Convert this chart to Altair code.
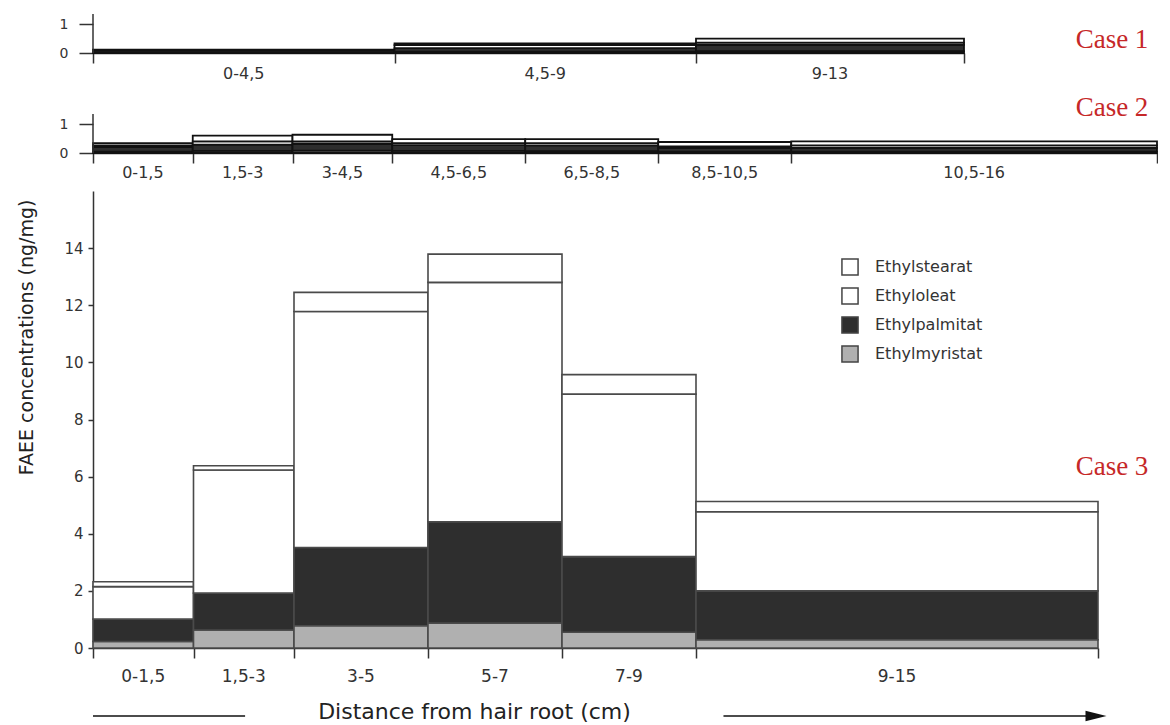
import altair as alt
import pandas as pd

FONT = "DejaVu Sans"

components = ["Ethylstearat", "Ethyloleat", "Ethylpalmitat", "Ethylmyristat"]
fill_colors = ["#ffffff", "#ffffff", "#2e2e2e", "#b0b0b0"]

# Case 1
c1_start = [0, 4.5, 9]
c1_end = [4.5, 9, 13]
c1_labels = ["0-4,5", "4,5-9", "9-13"]
c1_myristat = [0.02, 0.05, 0.06]
c1_palmitat = [0.07, 0.12, 0.22]
c1_oleat = [0.02, 0.10, 0.08]
c1_stearat = [0.01, 0.06, 0.14]

# Case 2
c2_start = [0, 1.5, 3, 4.5, 6.5, 8.5, 10.5]
c2_end = [1.5, 3, 4.5, 6.5, 8.5, 10.5, 16]
c2_labels = ["0-1,5", "1,5-3", "3-4,5", "4,5-6,5", "6,5-8,5", "8,5-10,5", "10,5-16"]
c2_myristat = [0.05, 0.07, 0.08, 0.07, 0.06, 0.05, 0.05]
c2_palmitat = [0.15, 0.22, 0.24, 0.20, 0.20, 0.12, 0.13]
c2_oleat = [0.06, 0.11, 0.08, 0.07, 0.08, 0.06, 0.08]
c2_stearat = [0.08, 0.20, 0.23, 0.14, 0.14, 0.15, 0.14]

# Case 3
c3_start = [0, 1.5, 3, 5, 7, 9]
c3_end = [1.5, 3, 5, 7, 9, 15]
c3_labels = ["0-1,5", "1,5-3", "3-5", "5-7", "7-9", "9-15"]
c3_myristat = [0.23, 0.63, 0.78, 0.87, 0.55, 0.29]
c3_palmitat = [0.78, 1.29, 2.74, 3.55, 2.65, 1.71]
c3_oleat = [1.14, 4.31, 8.26, 8.38, 5.69, 2.77]
c3_stearat = [0.17, 0.15, 0.67, 0.99, 0.68, 0.36]

# y-axis extent of the small case panels
case_axis_top = 1.35

# decorations of the x-axis title (in cm)
left_line = [0.0, 2.27]
right_arrow = [9.41, 14.86]
arrow_head = [14.97]

x_title = "Distance from hair root (cm)"
y_title = "FAEE concentrations (ng/mg)"


def make_long(start, end, myr, palm, ole, ste):
    rows = []
    series = [("Ethylmyristat", myr), ("Ethylpalmitat", palm),
              ("Ethyloleat", ole), ("Ethylstearat", ste)]
    for i in range(len(start)):
        for k, (name, vals) in enumerate(series):
            rows.append({"start": start[i], "end": end[i], "component": name,
                         "order": k, "value": vals[i]})
    return pd.DataFrame(rows)


def panel(start, end, labels, myr, palm, ole, ste, width, height, ymax, yticks,
          ytick_size, ylab_pad, ylab_size, case_text, case_x, case_y,
          label_offset, label_size, stroke, stroke_w, main=False):
    df = make_long(start, end, myr, palm, ole, ste)
    lab = pd.DataFrame({"start": start, "end": end, "label": labels})
    xscale = alt.Scale(domain=[0, end[-1]], nice=False, zero=False)
    yscale = alt.Scale(domain=[0, ymax], nice=False, zero=True)
    xaxis_kw = dict(values=[0] + list(end), labels=False, ticks=True, tickSize=10,
                    tickWidth=1.5, tickColor="#333", domainColor="#333",
                    domainWidth=1.5, grid=False)
    if main:
        xaxis = alt.Axis(title=x_title, titleFont=FONT, titleFontSize=22,
                         titleFontWeight="normal", titleColor="#222",
                         titleX=381, titleY=63, titleBaseline="middle",
                         titleAlign="center", **xaxis_kw)
    else:
        xaxis = alt.Axis(title=None, **xaxis_kw)
    yaxis_kw = dict(values=yticks, tickSize=ytick_size, tickWidth=1.5,
                    tickColor="#333", labelFont=FONT, labelFontSize=ylab_size,
                    labelColor="#333", labelPadding=ylab_pad, grid=False,
                    format="d")
    if main:
        yaxis = alt.Axis(title=y_title, titleFont=FONT, titleFontSize=19,
                         titleFontWeight="normal", titleColor="#222",
                         titleAnchor="end", titleY=8, titleAlign="right",
                         titlePadding=27, domainColor="#333",
                         domainWidth=1.5, **yaxis_kw)
        legend = alt.Legend(orient="none", legendX=748, legendY=67, title=None,
                            symbolType="square", symbolSize=260,
                            symbolStrokeColor="#444", symbolStrokeWidth=1.5,
                            labelFont=FONT, labelFontSize=16, labelColor="#333",
                            rowPadding=5, labelOffset=16)
    else:
        yaxis = alt.Axis(title=None, domain=False, **yaxis_kw)
        legend = None

    X = alt.X("start:Q", scale=xscale, axis=xaxis)
    Y = alt.Y("top:Q", scale=yscale, axis=yaxis)
    bars = alt.Chart(df).transform_window(
        top="sum(value)", groupby=["start"],
        sort=[alt.SortField("order", order="ascending")], frame=[None, 0]
    ).transform_calculate(bottom="datum.top - datum.value").mark_rect(
        stroke=stroke, strokeWidth=stroke_w
    ).encode(
        x=X,
        x2="end:Q",
        y=Y,
        y2="bottom:Q",
        fill=alt.Fill("component:N",
                      scale=alt.Scale(domain=components, range=fill_colors),
                      legend=legend),
    )
    xlabels = alt.Chart(lab).transform_calculate(
        mid="(datum.start + datum.end) / 2"
    ).mark_text(font=FONT, fontSize=label_size, color="#333", baseline="middle").encode(
        x=alt.X("mid:Q", scale=xscale, axis=xaxis),
        y=alt.value(height + label_offset),
        text="label:N",
    )
    case = alt.Chart(pd.DataFrame({"t": [case_text]})).mark_text(
        font="Liberation Serif", fontSize=27, color="#c62828", align="center",
        baseline="alphabetic"
    ).encode(text="t:N", x=alt.value(case_x), y=alt.value(case_y))
    layers = [bars, xlabels, case]
    if main:
        lines = pd.DataFrame({"x": [left_line[0], right_arrow[0]],
                              "x2": [left_line[1], right_arrow[1]]})
        rules = alt.Chart(lines).mark_rule(color="#111", strokeWidth=1.6).encode(
            x=alt.X("x:Q", scale=xscale, axis=xaxis), x2="x2:Q",
            y=alt.value(height + 68))
        head = alt.Chart(pd.DataFrame({"x": arrow_head})).mark_point(
            shape="M-1,-0.5L1,0L-1,0.5Z", filled=True, size=441, color="#111",
            opacity=1
        ).encode(x=alt.X("x:Q", scale=xscale, axis=xaxis), y=alt.value(height + 68))
        layers += [rules, head]
    else:
        yline = alt.Chart(pd.DataFrame({"y": [0.0], "y2": [case_axis_top]})).mark_rule(
            color="#333", strokeWidth=1.5
        ).encode(x=alt.value(0), y=alt.Y("y:Q", scale=yscale, axis=yaxis), y2="y2:Q")
        layers += [yline]
    return alt.layer(*layers).properties(width=width, height=height)


p1 = panel(c1_start, c1_end, c1_labels, c1_myristat, c1_palmitat, c1_oleat, c1_stearat,
           871, 39, 1.35, [0, 1], 14, 11, 14, "Case 1", 1019, 34, 21, 16, "#111", 1.8)
p2 = panel(c2_start, c2_end, c2_labels, c2_myristat, c2_palmitat, c2_oleat, c2_stearat,
           1064, 62, 2.14, [0, 1], 14, 11, 14, "Case 2", 1019, 25, 20, 16, "#111", 1.8)
p3 = panel(c3_start, c3_end, c3_labels, c3_myristat, c3_palmitat, c3_oleat, c3_stearat,
           1005, 457, 16, [0, 2, 4, 6, 8, 10, 12, 14], 5, 5, 15, "Case 3", 1019, 284,
           29, 17, "#4a4a4a", 1.6, main=True)

chart = alt.vconcat(p1, p2, p3, spacing=38, bounds="flush").resolve_scale(
    fill="independent"
).properties(
    padding={"left": 9, "top": 5, "right": 0, "bottom": 0}
).configure_view(stroke=None)

chart.save("out.html", embed_options={"renderer": "svg", "actions": False})
